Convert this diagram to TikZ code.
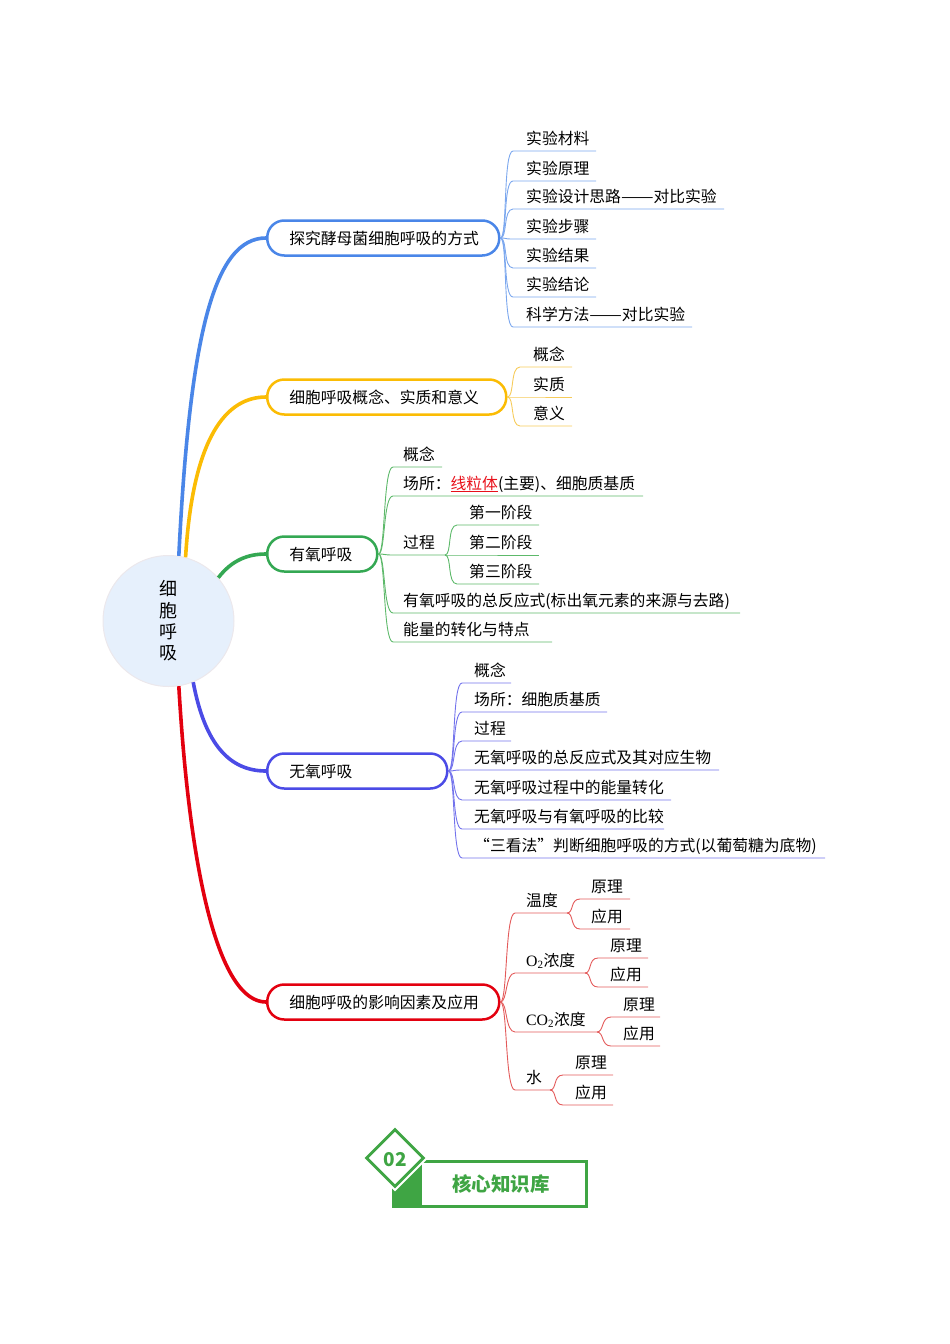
\documentclass[tikz,border=0pt]{standalone}
\usepackage{fontspec}
\setmainfont{Noto Sans CJK SC}
\newfontfamily\lat{Liberation Serif}
\usetikzlibrary{calc,shapes.geometric}
\definecolor{cb}{HTML}{4A86E8}
\definecolor{cbl}{HTML}{7BA7EE}
\definecolor{cy}{HTML}{FBBC04}
\definecolor{cyl}{HTML}{F6CB5A}
\definecolor{cg}{HTML}{34A853}
\definecolor{cgl}{HTML}{5DB96A}
\definecolor{cv}{HTML}{4B4BE6}
\definecolor{cvl}{HTML}{7373EC}
\definecolor{cr}{HTML}{E3000F}
\definecolor{crl}{HTML}{E35A5A}
\definecolor{cred}{HTML}{E8101A}
\definecolor{lg}{HTML}{3FA544}
\definecolor{circf}{HTML}{E6F0FC}
\definecolor{circb}{HTML}{ECE8EC}
\newcommand\mmtwig[6]{%
  \coordinate (#6a) at (#3,#4);
  \coordinate (#6b) at (#5,#4);
  \draw[twigline,#1] (#2) .. controls +(7,0) and +(-10,0) .. (#6a) -- (#6b);}
\newcommand\mmleaf[4]{\node[leaftext] (#1) at (#2,#3-7) {#4};}
\newcommand\mmdash{\scalebox{1.23}[1]{——}}
\begin{document}
\begin{tikzpicture}[x=1pt,y=-1pt,
  mainbox/.style={draw, line width=2.5pt, fill=white, rounded corners=17pt,
    minimum height=35pt, inner xsep=22pt, inner ysep=0pt, anchor=west,
    font=\fontsize{15.8}{18}\selectfont},
  leaftext/.style={anchor=base west, inner sep=0pt, font=\fontsize{15.8}{18}\selectfont},
  branchline/.style={line width=3.6pt, line cap=butt},
  twigline/.style={line width=0.9pt}]
\useasboundingbox (0,0) rectangle (950,1344);

% centre
\node[circle, fill=circf, draw=circb, line width=1pt, minimum size=131pt, inner sep=0pt,
  align=center, font=\fontsize{18}{21.3}\selectfont] (cen) at (168.5,621) {细\\胞\\呼\\吸};

% main nodes
\node[mainbox, draw=cb] (n1) at (266,238) {\makebox[188pt][l]{探究酵母菌细胞呼吸的方式}};
\node[mainbox, draw=cy] (n2) at (266,397) {\makebox[195pt][l]{细胞呼吸概念、实质和意义}};
\node[mainbox, draw=cg] (n3) at (266,554) {\makebox[66pt][l]{有氧呼吸}};
\node[mainbox, draw=cv] (n4) at (266,771) {\makebox[136pt][l]{无氧呼吸}};
\node[mainbox, draw=cr] (n5) at (266,1002) {\makebox[188pt][l]{细胞呼吸的影响因素及应用}};

% branches
\draw[branchline, cb] (cen.81.6) .. controls (190,330) and (215,238) .. (n1.west);
\draw[branchline, cy] (cen.75.5) .. controls (192,450) and (220,397) .. (n2.west);
\draw[branchline, cg] (cen.41) .. controls (232,560) and (248,554) .. (n3.west);
\draw[branchline, cv] (cen.-68) .. controls (205,745) and (230,771) .. (n4.west);
\draw[branchline, cr] (cen.-81.7) .. controls (190,880) and (220,1002) .. (n5.west);

% n1 children
\mmtwig{cbl}{n1.east}{513}{151}{596}{a1}
\mmtwig{cbl}{n1.east}{513}{181}{596}{a2}
\mmtwig{cbl}{n1.east}{513}{209}{724}{a3}
\mmtwig{cbl}{n1.east}{513}{239}{596}{a4}
\mmtwig{cbl}{n1.east}{513}{268}{596}{a5}
\mmtwig{cbl}{n1.east}{513}{297}{596}{a6}
\mmtwig{cbl}{n1.east}{513}{327}{692}{a7}
\mmleaf{a1t}{526}{151}{实验材料}
\mmleaf{a2t}{526}{181}{实验原理}
\mmleaf{a3t}{526}{209}{实验设计思路\mmdash 对比实验}
\mmleaf{a4t}{526}{239}{实验步骤}
\mmleaf{a5t}{526}{268}{实验结果}
\mmleaf{a6t}{526}{297}{实验结论}
\mmleaf{a7t}{526}{327}{科学方法\mmdash 对比实验}

% n2 children
\mmtwig{cyl}{n2.east}{520}{367}{572}{b1}
\mmtwig{cyl}{n2.east}{520}{397}{572}{b2}
\mmtwig{cyl}{n2.east}{520}{426}{572}{b3}
\mmleaf{b1t}{533}{367}{概念}
\mmleaf{b2t}{533}{397}{实质}
\mmleaf{b3t}{533}{426}{意义}

% n3 children
\mmtwig{cgl}{n3.east}{393}{467}{442}{c1}
\mmtwig{cgl}{n3.east}{393}{496}{643}{c2}
\mmtwig{cgl}{n3.east}{393}{555}{445}{c3}
\mmtwig{cgl}{n3.east}{393}{613}{740}{c4}
\mmtwig{cgl}{n3.east}{393}{642}{552}{c5}
\mmleaf{c1t}{403}{467}{概念}
\mmleaf{c2t}{403}{496}{场所：{\color{cred}\underline{线粒体}}(主要)、细胞质基质}
\mmleaf{c3t}{403}{555}{过程}
\mmleaf{c4t}{403}{613}{有氧呼吸的总反应式(标出氧元素的来源与去路)}
\mmleaf{c5t}{403}{642}{能量的转化与特点}
\mmtwig{cgl}{c3b}{457}{525}{539}{d1}
\mmtwig{cgl}{c3b}{457}{555}{539}{d2}
\mmtwig{cgl}{c3b}{457}{584}{539}{d3}
\mmleaf{d1t}{469}{525}{第一阶段}
\mmleaf{d2t}{469}{555}{第二阶段}
\mmleaf{d3t}{469}{584}{第三阶段}

% n4 children
\mmtwig{cvl}{n4.east}{462}{683}{511}{g1}
\mmtwig{cvl}{n4.east}{462}{712}{607}{g2}
\mmtwig{cvl}{n4.east}{462}{741}{511}{g3}
\mmtwig{cvl}{n4.east}{462}{770}{719}{g4}
\mmtwig{cvl}{n4.east}{462}{800}{671}{g5}
\mmtwig{cvl}{n4.east}{462}{829}{664}{g6}
\mmtwig{cvl}{n4.east}{462}{858}{825}{g7}
\mmleaf{g1t}{474}{683}{概念}
\mmleaf{g2t}{474}{712}{场所：细胞质基质}
\mmleaf{g3t}{474}{741}{过程}
\mmleaf{g4t}{474}{770}{无氧呼吸的总反应式及其对应生物}
\mmleaf{g5t}{474}{800}{无氧呼吸过程中的能量转化}
\mmleaf{g6t}{474}{829}{无氧呼吸与有氧呼吸的比较}
\mmleaf{g7t}{474}{858}{“三看法”判断细胞呼吸的方式(以葡萄糖为底物)}

% n5 children
\mmtwig{crl}{n5.east}{515}{913}{567}{e1}
\mmtwig{crl}{n5.east}{515}{973}{585}{e2}
\mmtwig{crl}{n5.east}{515}{1032}{597}{e3}
\mmtwig{crl}{n5.east}{515}{1090}{550}{e4}
\mmleaf{e1t}{526}{913}{温度}
\mmleaf{e2t}{526}{973}{{\lat O\textsubscript{2}}浓度}
\mmleaf{e3t}{526}{1032}{{\lat CO\textsubscript{2}}浓度}
\mmleaf{e4t}{526}{1090}{水}
\mmtwig{crl}{e1b}{580}{899}{630}{f1}
\mmtwig{crl}{e1b}{580}{929}{630}{f2}
\mmtwig{crl}{e2b}{598}{958}{648}{f3}
\mmtwig{crl}{e2b}{598}{987}{648}{f4}
\mmtwig{crl}{e3b}{611}{1017}{660}{f5}
\mmtwig{crl}{e3b}{611}{1046}{660}{f6}
\mmtwig{crl}{e4b}{563}{1075}{613}{f7}
\mmtwig{crl}{e4b}{563}{1105}{613}{f8}
\mmleaf{f1t}{591}{899}{原理}
\mmleaf{f2t}{591}{929}{应用}
\mmleaf{f3t}{610}{958}{原理}
\mmleaf{f4t}{610}{987}{应用}
\mmleaf{f5t}{623}{1017}{原理}
\mmleaf{f6t}{623}{1046}{应用}
\mmleaf{f7t}{575}{1075}{原理}
\mmleaf{f8t}{575}{1105}{应用}

% logo
\node[draw=lg, line width=3pt, minimum width=193pt, minimum height=45pt, anchor=north west, inner sep=0pt] (lbox) at (392,1160) {};
\fill[lg] (392,1162) rectangle (422,1205);
\node[diamond, minimum width=58pt, minimum height=58pt, inner sep=0pt, draw=lg, fill=white, line width=2.8pt,
  preaction={draw=white, line width=7pt}] (ldia) at (395,1158) {};
\node[text=lg, font=\bfseries\fontsize{19}{19}\selectfont, inner sep=0pt] (ldig) at (395,1160) {02};
\node[text=lg, font=\bfseries\fontsize{19.5}{20}\selectfont, inner sep=0pt] (ltxt) at (501,1184) {核心知识库};
\end{tikzpicture}
\end{document}
